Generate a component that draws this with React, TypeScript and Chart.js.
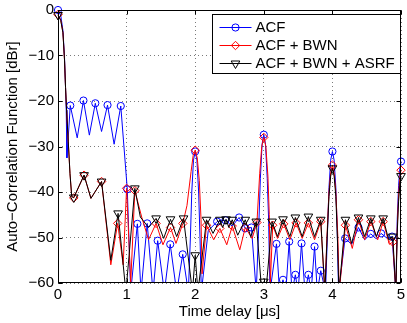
import React, { useEffect, useRef } from 'react';
import { Chart, registerables } from 'chart.js';

Chart.register(...registerables);

// ---------- data ----------
const delayTicks = [0, 1, 2, 3, 4, 5];
const levelTicks = [-60, -50, -40, -30, -20, -10, 0];
const seriesNames = ['ACF', 'ACF + BWN', 'ACF + BWN + ASRF'];

// [time delay (µs), level (dBr), sampled marker (1/0)]
const acf: [number, number, number][] = [
  [0, 0, 1], [0.04, -1.2, 0], [0.072, -4.5, 0], [0.095, -10.5, 0], [0.11, -17, 0], [0.12, -22, 0],
  [0.13, -32.5, 0], [0.179, -21, 1], [0.28, -28.1, 0], [0.371, -19.9, 1],
  [0.457, -27.5, 0], [0.544, -20.5, 1], [0.635, -26.7, 0], [0.722, -20.9, 1], [0.818, -29.5, 0],
  [0.915, -21.1, 1], [1.01, -39.4, 1], [1.06, -62, 0], [1.157, -47.0, 1], [1.21, -62, 0],
  [1.3, -46.9, 1], [1.385, -62, 0], [1.453, -50.7, 1], [1.55, -62, 0], [1.636, -51.5, 1],
  [1.73, -62, 0], [1.818, -53.7, 1], [1.9, -62, 0], [1.93, -50, 0], [1.95, -40, 0], [1.975, -33, 0],
  [2.0, -31.1, 1], [2.025, -33, 0], [2.05, -40, 0], [2.07, -50, 0], [2.09, -62, 0],
  [2.19, -48.5, 0], [2.32, -46.5, 1], [2.44, -46.2, 1], [2.54, -47.5, 0], [2.64, -45.6, 1],
  [2.73, -48, 1], [2.82, -47.8, 1], [2.89, -62, 0], [2.93, -46, 0], [2.95, -37, 0], [2.975, -29.5, 0],
  [3.0, -27.4, 1], [3.025, -29.5, 0], [3.05, -37, 0], [3.07, -46, 0], [3.09, -62, 0],
  [3.185, -51.4, 1], [3.23, -62, 0], [3.28, -59.3, 1], [3.32, -62, 0], [3.37, -50.9, 1],
  [3.41, -62, 0], [3.46, -58.2, 1], [3.5, -62, 0], [3.55, -51.3, 1], [3.6, -62, 0],
  [3.65, -58.2, 1], [3.69, -62, 0], [3.74, -52.0, 1], [3.78, -62, 0], [3.83, -57.3, 1],
  [3.9, -62, 0], [3.93, -48, 0], [3.95, -39, 0], [3.975, -33, 0], [4.0, -31.1, 1],
  [4.025, -33, 0], [4.05, -39, 0], [4.07, -48, 0], [4.09, -62, 0], [4.185, -50.2, 1], [4.28, -51.5, 0],
  [4.38, -47.8, 1], [4.47, -50.5, 0], [4.56, -49.2, 1], [4.64, -50.3, 0], [4.71, -49.1, 1],
  [4.8, -50.2, 0], [4.87, -49.8, 1], [4.925, -62, 0], [4.945, -46, 0], [4.965, -38.5, 0],
  [4.985, -34.5, 0], [5.0, -33.3, 1],
];

const acfBwn: [number, number, number][] = [
  [0, -1, 1], [0.04, -2.2, 0], [0.072, -5, 0], [0.095, -11, 0], [0.11, -17, 0], [0.125, -22, 0],
  [0.15, -29, 0], [0.175, -36, 0], [0.2, -41, 0], [0.23, -41.3, 1], [0.38, -36.3, 1],
  [0.48, -41.4, 0], [0.635, -37.7, 1], [0.77, -56, 0], [0.87, -46.9, 1], [0.95, -56, 0],
  [1.0, -39.2, 1], [1.06, -60, 0], [1.12, -39.7, 1], [1.22, -45.5, 0], [1.32, -50.5, 0],
  [1.43, -46.9, 1], [1.53, -51.6, 0], [1.64, -47.8, 1], [1.72, -51.3, 0], [1.82, -46.9, 1],
  [1.88, -43, 0], [1.94, -35.5, 0], [1.97, -32, 0], [2.0, -30.8, 1], [2.03, -32.5, 0],
  [2.06, -37.5, 0], [2.085, -46, 0], [2.1, -58, 0], [2.165, -47.3, 1], [2.27, -50.5, 0], [2.36, -48, 1],
  [2.46, -51.6, 0], [2.54, -47.5, 1], [2.65, -52.7, 0], [2.73, -47.8, 1], [2.83, -50.2, 0],
  [2.9, -46.7, 1], [2.94, -36, 0], [2.97, -30, 0], [3.0, -28, 1], [3.03, -30, 0], [3.06, -36.5, 0],
  [3.08, -45, 0], [3.095, -60, 0], [3.13, -47.3, 1], [3.2, -50.2, 0],
  [3.29, -47, 1], [3.38, -50.5, 0], [3.47, -46.8, 1], [3.56, -50.2, 0], [3.65, -46.8, 1],
  [3.74, -50.5, 0], [3.83, -46.5, 1], [3.89, -62, 0], [3.92, -50, 0], [3.95, -40, 0], [3.975, -35.8, 0],
  [4.0, -34.1, 1], [4.025, -35.8, 0], [4.05, -40, 0], [4.08, -50, 0], [4.1, -62, 0],
  [4.19, -47.3, 1], [4.29, -52.4, 0], [4.38, -46.1, 1], [4.47, -50.5, 0], [4.56, -46.5, 1],
  [4.66, -50.5, 0], [4.74, -46.5, 1], [4.83, -51.5, 0], [4.88, -51, 1], [4.925, -62, 0],
  [4.945, -48, 0], [4.965, -40.5, 0], [4.985, -36.5, 0], [5.0, -35.2, 1],
];

const acfBwnAsrf: [number, number, number][] = [
  [0, -1.1, 1], [0.04, -2.3, 0], [0.072, -5, 0], [0.095, -11, 0], [0.11, -17, 0], [0.125, -22, 0],
  [0.15, -29, 0], [0.175, -36, 0], [0.2, -41, 0], [0.23, -41.2, 1], [0.38, -36.3, 1],
  [0.48, -41.4, 0], [0.635, -37.7, 1], [0.77, -55, 0], [0.876, -44.7, 1], [0.99, -62, 0],
  [1.12, -39.2, 1], [1.2, -45.5, 0], [1.32, -47.8, 0], [1.43, -45.8, 1], [1.54, -50.2, 0],
  [1.64, -46, 1], [1.73, -49.8, 0], [1.83, -45.8, 1], [1.96, -62, 0], [2.0, -53.9, 1],
  [2.04, -62, 0], [2.165, -46.1, 1], [2.26, -49.1, 0], [2.36, -46.1, 1], [2.4, -47.8, 0],
  [2.45, -46, 1], [2.49, -47.8, 0], [2.54, -46.1, 1], [2.62, -49.5, 0], [2.73, -46.1, 1],
  [2.81, -49.8, 0], [2.89, -46.5, 1], [2.97, -62, 0], [3.0, -59.7, 1], [3.03, -62, 0],
  [3.12, -46.5, 1], [3.2, -49.8, 0], [3.28, -46, 1], [3.38, -49.8, 0], [3.46, -45.6, 1],
  [3.56, -49.8, 0], [3.65, -45.4, 1], [3.74, -49.8, 0], [3.83, -46.1, 1], [3.89, -62, 0],
  [3.92, -51, 0], [3.95, -41, 0], [3.975, -36.5, 0], [4.0, -34.8, 1], [4.025, -36.5, 0],
  [4.05, -41, 0], [4.075, -51, 0], [4.095, -62, 0], [4.19, -46.1, 1], [4.28, -51.3, 0], [4.38, -45.6, 1],
  [4.47, -49.8, 0], [4.56, -45.8, 1], [4.64, -49.8, 0], [4.74, -45.8, 1], [4.82, -50.5, 0],
  [4.88, -49.8, 1], [4.925, -62, 0], [4.945, -49, 0], [4.965, -42, 0], [4.985, -38, 0], [5.0, -36.5, 1],
];

// ---------- styling ----------
const FONT = "'Liberation Sans', Arial, Helvetica, sans-serif";
const FONT_SIZE = 15;
const COLORS = ['#0000ff', '#ff0000', '#000000'];
const MARKERS = ['circle', 'diamond', 'nabla'];
const MARKER_R = [3.6, 4.2, 5];

function drawMarker(ctx: CanvasRenderingContext2D, kind: string, x: number, y: number, r: number, color: string) {
  ctx.save();
  ctx.strokeStyle = color;
  ctx.lineWidth = 1;
  ctx.beginPath();
  if (kind === 'circle') {
    ctx.arc(x, y, r, 0, Math.PI * 2);
  } else if (kind === 'diamond') {
    ctx.moveTo(x, y - r);
    ctx.lineTo(x + r, y);
    ctx.lineTo(x, y + r);
    ctx.lineTo(x - r, y);
    ctx.closePath();
  } else {
    const h = r * Math.sqrt(3) / 2;
    ctx.moveTo(x - h, y - r / 2);
    ctx.lineTo(x + h, y - r / 2);
    ctx.lineTo(x, y + r);
    ctx.closePath();
  }
  ctx.stroke();
  ctx.restore();
}

const matlabPlugin = {
  id: 'matlabFrame',
  afterDatasetsDraw(chart: any) {
    const { ctx, chartArea: a, scales } = chart;
    ctx.save();
    ctx.strokeStyle = '#000';
    ctx.lineWidth = 1;
    const L = Math.round(a.left) + 0.5;
    const R = Math.round(a.right) - 0.5;
    const T = Math.round(a.top) + 0.5;
    const B = Math.round(a.bottom) - 0.5;
    ctx.strokeRect(L, T, R - L, B - T);
    const tl = 4;
    ctx.beginPath();
    for (const v of delayTicks) {
      const px = Math.round(scales.x.getPixelForValue(v)) + 0.5;
      ctx.moveTo(px, B); ctx.lineTo(px, B - tl);
      ctx.moveTo(px, T); ctx.lineTo(px, T + tl);
    }
    for (const v of levelTicks) {
      const py = Math.round(scales.y.getPixelForValue(v)) + 0.5;
      ctx.moveTo(L, py); ctx.lineTo(L + tl, py);
      ctx.moveTo(R, py); ctx.lineTo(R - tl, py);
    }
    ctx.stroke();
    ctx.restore();
  },
  afterDraw(chart: any) {
    const { ctx, chartArea: a } = chart;
    ctx.save();
    const w = 188, h = 59;
    const bx = Math.round(a.right) - 1 - w + 0.5;
    const by = Math.round(a.top) + 4 + 0.5;
    ctx.fillStyle = '#fff';
    ctx.fillRect(bx, by, w, h);
    ctx.strokeStyle = '#000';
    ctx.lineWidth = 1;
    ctx.strokeRect(bx, by, w, h);
    ctx.font = `${FONT_SIZE}px ${FONT}`;
    ctx.textBaseline = 'middle';
    ctx.textAlign = 'left';
    seriesNames.forEach((name, i) => {
      const cy = by + 12.5 + i * 17.8;
      const x1 = bx + 7, x2 = bx + 39;
      ctx.strokeStyle = COLORS[i];
      ctx.beginPath();
      ctx.moveTo(x1, Math.round(cy) + 0.5);
      ctx.lineTo(x2, Math.round(cy) + 0.5);
      ctx.stroke();
      drawMarker(ctx, MARKERS[i], (x1 + x2) / 2, Math.round(cy) + 0.5, MARKER_R[i], COLORS[i]);
      ctx.fillStyle = '#000';
      ctx.fillText(name, bx + 43, cy + 1);
    });
    ctx.restore();
  },
};

const minus = (v: number) => (v < 0 ? '\u2212' + Math.abs(v) : String(v));

export default function App() {
  const ref = useRef<HTMLCanvasElement | null>(null);
  useEffect(() => {
    if (!ref.current) return;
    const series = [acf, acfBwn, acfBwnAsrf];
    const pointStyles = ['circle', 'rectRot', 'triangle'];
    const chart = new Chart(ref.current, {
      type: 'line',
      data: {
        datasets: series.map((s, i) => ({
          label: seriesNames[i],
          data: s.map(([x, y]) => ({ x, y })),
          borderColor: COLORS[i],
          borderWidth: 1,
          borderJoinStyle: 'round' as const,
          tension: 0,
          fill: false,
          clip: { left: 8, top: 8, right: 8, bottom: 0 },
          pointStyle: pointStyles[i] as any,
          pointRotation: i === 2 ? 180 : 0,
          pointRadius: (c: any) => (s[c.dataIndex] && s[c.dataIndex][2] ? MARKER_R[i] : 0),
          pointBorderColor: COLORS[i],
          pointBackgroundColor: 'rgba(0,0,0,0)',
          pointBorderWidth: 1,
          pointHoverRadius: 0,
          order: 3 - i,
        })),
      },
      options: {
        responsive: false,
        animation: false,
        events: [],
        layout: { padding: { top: 10, right: 2, left: 0, bottom: 0 } },
        plugins: { legend: { display: false }, tooltip: { enabled: false } },
        scales: {
          x: {
            type: 'linear',
            min: 0,
            max: 5,
            afterBuildTicks: (s: any) => { s.ticks = delayTicks.map((v) => ({ value: v })); },
            afterFit: (s: any) => { s.height = 40; s.paddingLeft = 0; s.paddingRight = 0; },
            ticks: {
              color: '#000',
              font: { family: FONT, size: FONT_SIZE },
              padding: 3,
              maxRotation: 0,
              callback: (v: any) => minus(Number(v)),
            },
            grid: { color: '#7a7a7a', lineWidth: 1, drawTicks: false },
            border: { display: false, dash: [1, 3] },
            title: {
              display: true,
              text: 'Time delay [\u03bcs]',
              color: '#000',
              font: { family: FONT, size: FONT_SIZE },
              padding: { top: 0, bottom: 2 },
            },
          },
          y: {
            type: 'linear',
            min: -60,
            max: 0,
            afterBuildTicks: (s: any) => { s.ticks = levelTicks.map((v) => ({ value: v })); },
            afterFit: (s: any) => { s.width = 58; s.paddingTop = 0; s.paddingBottom = 0; },
            ticks: {
              color: '#000',
              font: { family: FONT, size: FONT_SIZE },
              padding: 4,
              callback: (v: any) => minus(Number(v)),
            },
            grid: { color: '#7a7a7a', lineWidth: 1, drawTicks: false },
            border: { display: false, dash: [1, 3] },
            title: {
              display: true,
              text: 'Auto\u2212Correlation Function [dBr]',
              color: '#000',
              font: { family: FONT, size: FONT_SIZE },
              padding: { top: 4, bottom: 0 },
            },
          },
        },
      },
      plugins: [matlabPlugin],
    } as any);
    return () => chart.destroy();
  }, []);
  return (
    <div style={{ position: 'absolute', left: 0, top: 0, width: 407, height: 323, background: '#fff' }}>
      <canvas ref={ref} width={407} height={323} style={{ display: 'block' }} />
    </div>
  );
}
